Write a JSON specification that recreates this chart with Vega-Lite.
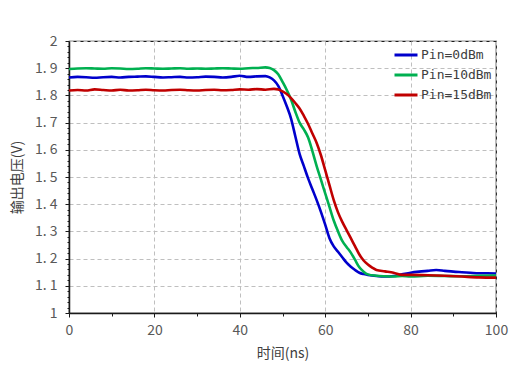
{
  "$schema": "https://vega.github.io/schema/vega-lite/v6.json",
  "width": 427,
  "height": 272,
  "autosize": "none",
  "padding": {"left": 69, "top": 41, "right": 16, "bottom": 58},
  "background": "white",
  "config": {
    "view": {"stroke": "#1a1a1a", "strokeWidth": 1.2, "fill": "white"},
    "font": "Noto Sans CJK SC",
    "axis": {
      "labelFont": "Noto Sans CJK SC",
      "titleFont": "Noto Sans CJK SC",
      "labelColor": "#595959",
      "titleColor": "#404040",
      "labelFontSize": 14,
      "titleFontSize": 14,
      "titleFontWeight": "normal",
      "gridColor": "#BFBFBF",
      "gridDash": [4, 3],
      "gridWidth": 1,
      "labelFlush": false,
      "domainColor": "#1a1a1a",
      "domainWidth": 1.5,
      "tickColor": "#1a1a1a"
    }
  },
  "datasets": {
    "v": [
      {"t":0,"v":1.866,"s":"Pin=0dBm"},{"t":2,"v":1.868,"s":"Pin=0dBm"},{"t":4,"v":1.867,"s":"Pin=0dBm"},{"t":6,"v":1.865,"s":"Pin=0dBm"},{"t":8,"v":1.867,"s":"Pin=0dBm"},{"t":10,"v":1.868,"s":"Pin=0dBm"},{"t":12,"v":1.866,"s":"Pin=0dBm"},{"t":14,"v":1.868,"s":"Pin=0dBm"},{"t":16,"v":1.869,"s":"Pin=0dBm"},{"t":18,"v":1.870,"s":"Pin=0dBm"},{"t":20,"v":1.868,"s":"Pin=0dBm"},{"t":22,"v":1.866,"s":"Pin=0dBm"},{"t":24,"v":1.867,"s":"Pin=0dBm"},{"t":26,"v":1.868,"s":"Pin=0dBm"},{"t":28,"v":1.866,"s":"Pin=0dBm"},{"t":30,"v":1.867,"s":"Pin=0dBm"},{"t":32,"v":1.869,"s":"Pin=0dBm"},{"t":34,"v":1.868,"s":"Pin=0dBm"},{"t":36,"v":1.866,"s":"Pin=0dBm"},{"t":38,"v":1.868,"s":"Pin=0dBm"},{"t":40,"v":1.872,"s":"Pin=0dBm"},{"t":42,"v":1.868,"s":"Pin=0dBm"},{"t":44,"v":1.870,"s":"Pin=0dBm"},{"t":46,"v":1.871,"s":"Pin=0dBm"},{"t":47,"v":1.866,"s":"Pin=0dBm"},{"t":48,"v":1.855,"s":"Pin=0dBm"},{"t":49,"v":1.835,"s":"Pin=0dBm"},{"t":50,"v":1.800,"s":"Pin=0dBm"},{"t":51,"v":1.760,"s":"Pin=0dBm"},{"t":52,"v":1.715,"s":"Pin=0dBm"},{"t":53,"v":1.650,"s":"Pin=0dBm"},{"t":54,"v":1.585,"s":"Pin=0dBm"},{"t":55,"v":1.540,"s":"Pin=0dBm"},{"t":56,"v":1.495,"s":"Pin=0dBm"},{"t":57,"v":1.455,"s":"Pin=0dBm"},{"t":58,"v":1.415,"s":"Pin=0dBm"},{"t":59,"v":1.372,"s":"Pin=0dBm"},{"t":60,"v":1.325,"s":"Pin=0dBm"},{"t":61,"v":1.275,"s":"Pin=0dBm"},{"t":62,"v":1.245,"s":"Pin=0dBm"},{"t":63,"v":1.225,"s":"Pin=0dBm"},{"t":64,"v":1.205,"s":"Pin=0dBm"},{"t":65,"v":1.185,"s":"Pin=0dBm"},{"t":66,"v":1.170,"s":"Pin=0dBm"},{"t":67,"v":1.158,"s":"Pin=0dBm"},{"t":68,"v":1.148,"s":"Pin=0dBm"},{"t":69,"v":1.143,"s":"Pin=0dBm"},{"t":70,"v":1.140,"s":"Pin=0dBm"},{"t":72,"v":1.136,"s":"Pin=0dBm"},{"t":74,"v":1.134,"s":"Pin=0dBm"},{"t":76,"v":1.136,"s":"Pin=0dBm"},{"t":78,"v":1.142,"s":"Pin=0dBm"},{"t":80,"v":1.148,"s":"Pin=0dBm"},{"t":82,"v":1.152,"s":"Pin=0dBm"},{"t":84,"v":1.155,"s":"Pin=0dBm"},{"t":86,"v":1.158,"s":"Pin=0dBm"},{"t":88,"v":1.155,"s":"Pin=0dBm"},{"t":90,"v":1.152,"s":"Pin=0dBm"},{"t":92,"v":1.150,"s":"Pin=0dBm"},{"t":94,"v":1.148,"s":"Pin=0dBm"},{"t":96,"v":1.146,"s":"Pin=0dBm"},{"t":98,"v":1.146,"s":"Pin=0dBm"},{"t":100,"v":1.145,"s":"Pin=0dBm"},

      {"t":0,"v":1.897,"s":"Pin=10dBm"},{"t":2,"v":1.899,"s":"Pin=10dBm"},{"t":4,"v":1.900,"s":"Pin=10dBm"},{"t":6,"v":1.899,"s":"Pin=10dBm"},{"t":8,"v":1.898,"s":"Pin=10dBm"},{"t":10,"v":1.900,"s":"Pin=10dBm"},{"t":12,"v":1.899,"s":"Pin=10dBm"},{"t":14,"v":1.897,"s":"Pin=10dBm"},{"t":16,"v":1.898,"s":"Pin=10dBm"},{"t":18,"v":1.900,"s":"Pin=10dBm"},{"t":20,"v":1.899,"s":"Pin=10dBm"},{"t":22,"v":1.898,"s":"Pin=10dBm"},{"t":24,"v":1.899,"s":"Pin=10dBm"},{"t":26,"v":1.900,"s":"Pin=10dBm"},{"t":28,"v":1.898,"s":"Pin=10dBm"},{"t":30,"v":1.899,"s":"Pin=10dBm"},{"t":32,"v":1.898,"s":"Pin=10dBm"},{"t":34,"v":1.899,"s":"Pin=10dBm"},{"t":36,"v":1.900,"s":"Pin=10dBm"},{"t":38,"v":1.899,"s":"Pin=10dBm"},{"t":40,"v":1.898,"s":"Pin=10dBm"},{"t":42,"v":1.900,"s":"Pin=10dBm"},{"t":44,"v":1.901,"s":"Pin=10dBm"},{"t":46,"v":1.903,"s":"Pin=10dBm"},{"t":47,"v":1.901,"s":"Pin=10dBm"},{"t":48,"v":1.893,"s":"Pin=10dBm"},{"t":49,"v":1.878,"s":"Pin=10dBm"},{"t":50,"v":1.850,"s":"Pin=10dBm"},{"t":51,"v":1.820,"s":"Pin=10dBm"},{"t":52,"v":1.785,"s":"Pin=10dBm"},{"t":53,"v":1.740,"s":"Pin=10dBm"},{"t":54,"v":1.700,"s":"Pin=10dBm"},{"t":55,"v":1.675,"s":"Pin=10dBm"},{"t":56,"v":1.645,"s":"Pin=10dBm"},{"t":57,"v":1.595,"s":"Pin=10dBm"},{"t":58,"v":1.540,"s":"Pin=10dBm"},{"t":59,"v":1.490,"s":"Pin=10dBm"},{"t":60,"v":1.440,"s":"Pin=10dBm"},{"t":61,"v":1.390,"s":"Pin=10dBm"},{"t":62,"v":1.340,"s":"Pin=10dBm"},{"t":63,"v":1.300,"s":"Pin=10dBm"},{"t":64,"v":1.265,"s":"Pin=10dBm"},{"t":65,"v":1.243,"s":"Pin=10dBm"},{"t":66,"v":1.222,"s":"Pin=10dBm"},{"t":67,"v":1.195,"s":"Pin=10dBm"},{"t":68,"v":1.168,"s":"Pin=10dBm"},{"t":69,"v":1.152,"s":"Pin=10dBm"},{"t":70,"v":1.142,"s":"Pin=10dBm"},{"t":72,"v":1.137,"s":"Pin=10dBm"},{"t":74,"v":1.135,"s":"Pin=10dBm"},{"t":76,"v":1.134,"s":"Pin=10dBm"},{"t":78,"v":1.136,"s":"Pin=10dBm"},{"t":80,"v":1.134,"s":"Pin=10dBm"},{"t":84,"v":1.137,"s":"Pin=10dBm"},{"t":88,"v":1.136,"s":"Pin=10dBm"},{"t":92,"v":1.135,"s":"Pin=10dBm"},{"t":96,"v":1.137,"s":"Pin=10dBm"},{"t":100,"v":1.138,"s":"Pin=10dBm"},

      {"t":0,"v":1.818,"s":"Pin=15dBm"},{"t":2,"v":1.820,"s":"Pin=15dBm"},{"t":4,"v":1.818,"s":"Pin=15dBm"},{"t":6,"v":1.822,"s":"Pin=15dBm"},{"t":8,"v":1.820,"s":"Pin=15dBm"},{"t":10,"v":1.818,"s":"Pin=15dBm"},{"t":12,"v":1.821,"s":"Pin=15dBm"},{"t":14,"v":1.818,"s":"Pin=15dBm"},{"t":16,"v":1.819,"s":"Pin=15dBm"},{"t":18,"v":1.821,"s":"Pin=15dBm"},{"t":20,"v":1.819,"s":"Pin=15dBm"},{"t":22,"v":1.818,"s":"Pin=15dBm"},{"t":24,"v":1.820,"s":"Pin=15dBm"},{"t":26,"v":1.821,"s":"Pin=15dBm"},{"t":28,"v":1.819,"s":"Pin=15dBm"},{"t":30,"v":1.818,"s":"Pin=15dBm"},{"t":32,"v":1.820,"s":"Pin=15dBm"},{"t":34,"v":1.821,"s":"Pin=15dBm"},{"t":36,"v":1.819,"s":"Pin=15dBm"},{"t":38,"v":1.820,"s":"Pin=15dBm"},{"t":40,"v":1.822,"s":"Pin=15dBm"},{"t":42,"v":1.821,"s":"Pin=15dBm"},{"t":44,"v":1.823,"s":"Pin=15dBm"},{"t":46,"v":1.821,"s":"Pin=15dBm"},{"t":48,"v":1.824,"s":"Pin=15dBm"},{"t":49,"v":1.822,"s":"Pin=15dBm"},{"t":50,"v":1.815,"s":"Pin=15dBm"},{"t":51,"v":1.805,"s":"Pin=15dBm"},{"t":52,"v":1.790,"s":"Pin=15dBm"},{"t":53,"v":1.772,"s":"Pin=15dBm"},{"t":54,"v":1.752,"s":"Pin=15dBm"},{"t":55,"v":1.725,"s":"Pin=15dBm"},{"t":56,"v":1.695,"s":"Pin=15dBm"},{"t":57,"v":1.660,"s":"Pin=15dBm"},{"t":58,"v":1.625,"s":"Pin=15dBm"},{"t":59,"v":1.580,"s":"Pin=15dBm"},{"t":60,"v":1.525,"s":"Pin=15dBm"},{"t":61,"v":1.470,"s":"Pin=15dBm"},{"t":62,"v":1.415,"s":"Pin=15dBm"},{"t":63,"v":1.370,"s":"Pin=15dBm"},{"t":64,"v":1.335,"s":"Pin=15dBm"},{"t":65,"v":1.305,"s":"Pin=15dBm"},{"t":66,"v":1.275,"s":"Pin=15dBm"},{"t":67,"v":1.245,"s":"Pin=15dBm"},{"t":68,"v":1.215,"s":"Pin=15dBm"},{"t":69,"v":1.193,"s":"Pin=15dBm"},{"t":70,"v":1.178,"s":"Pin=15dBm"},{"t":71,"v":1.167,"s":"Pin=15dBm"},{"t":72,"v":1.158,"s":"Pin=15dBm"},{"t":74,"v":1.153,"s":"Pin=15dBm"},{"t":76,"v":1.148,"s":"Pin=15dBm"},{"t":78,"v":1.140,"s":"Pin=15dBm"},{"t":80,"v":1.140,"s":"Pin=15dBm"},{"t":84,"v":1.139,"s":"Pin=15dBm"},{"t":88,"v":1.137,"s":"Pin=15dBm"},{"t":92,"v":1.134,"s":"Pin=15dBm"},{"t":96,"v":1.131,"s":"Pin=15dBm"},{"t":100,"v":1.130,"s":"Pin=15dBm"}
    ]
  },
  "data": {"name": "v"},
  "layer": [
    {
      "mark": {"type": "line", "strokeWidth": 2.6, "interpolate": "monotone"},
      "encoding": {
        "x": {"field": "t", "type": "quantitative", "scale": {"domain": [0, 100]},
          "axis": {"title": "时间(ns)", "values": [0, 20, 40, 60, 80, 100], "grid": true, "domain": true, "ticks": true, "tickSize": 4, "labelPadding": 6, "titlePadding": 9, "orient": "bottom"}},
        "y": {"field": "v", "type": "quantitative", "scale": {"domain": [1, 2]},
          "axis": {"title": "输出电压(V)", "values": [1, 1.1, 1.2, 1.3, 1.4, 1.5, 1.6, 1.7, 1.8, 1.9, 2], "grid": true, "domain": true, "ticks": true, "tickSize": 4, "labelPadding": 8, "titlePadding": 10, "orient": "left",
            "labelExpr": "datum.value == 1 || datum.value == 2 ? format(datum.value, 'd') : replace(format(datum.value, '.1f'), '.', '. ')"}},
        "color": {"field": "s", "type": "nominal",
          "scale": {"domain": ["Pin=0dBm", "Pin=10dBm", "Pin=15dBm"], "range": ["#0000CC", "#00B050", "#C00000"]},
          "legend": {"title": null, "orient": "none", "legendX": 324, "legendY": 1, "symbolType": "stroke", "symbolSize": 529, "symbolStrokeWidth": 3, "labelFont": "DejaVu Sans Mono", "labelFontSize": 13, "labelColor": "#404040", "labelOffset": 2, "rowPadding": 0, "padding": 0}}
      }
    },
    {
      "mark": {"type": "line", "opacity": 0},
      "encoding": {
        "x": {"field": "t", "type": "quantitative", "scale": {"domain": [0, 100]},
          "axis": {"values": [10, 30, 50, 70, 90], "labels": false, "grid": false, "domain": false, "title": null, "tickSize": 3, "orient": "bottom"}},
        "y": {"field": "v", "type": "quantitative", "scale": {"domain": [1, 2]},
          "axis": {"values": [1.02,1.04,1.06,1.08,1.12,1.14,1.16,1.18,1.22,1.24,1.26,1.28,1.32,1.34,1.36,1.38,1.42,1.44,1.46,1.48,1.52,1.54,1.56,1.58,1.62,1.64,1.66,1.68,1.72,1.74,1.76,1.78,1.82,1.84,1.86,1.88,1.92,1.94,1.96,1.98], "labels": false, "grid": false, "domain": false, "title": null, "tickSize": 2, "orient": "left"}}
      }
    }
  ],
  "resolve": {"axis": {"x": "independent", "y": "independent"}}
}
